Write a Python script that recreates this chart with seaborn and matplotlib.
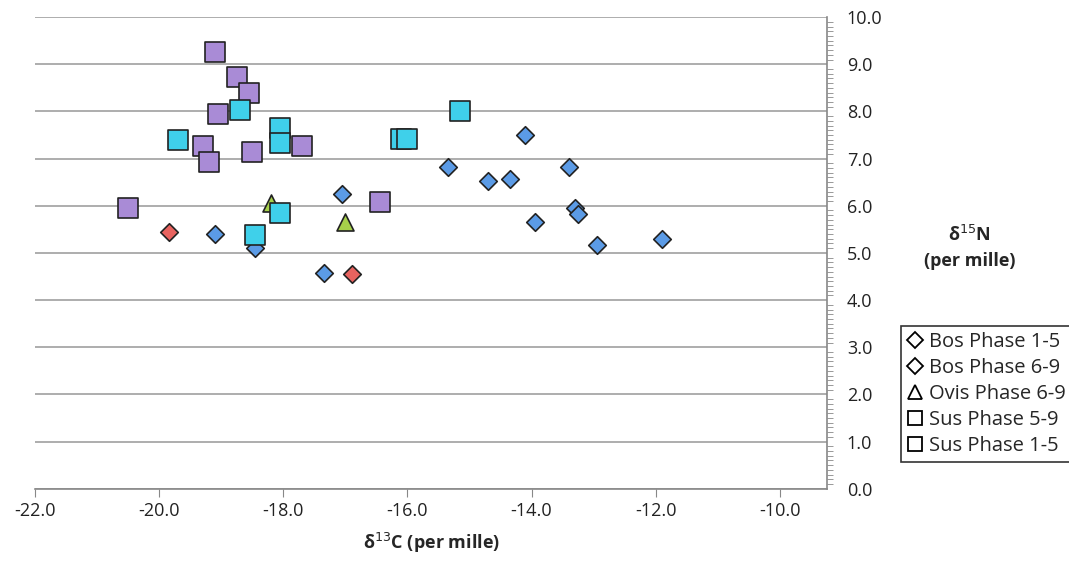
import matplotlib
matplotlib.use("Agg")
import matplotlib.pyplot as plt
import seaborn as sns
import pandas as pd
from matplotlib.lines import Line2D
from matplotlib.ticker import MultipleLocator

# data
bos15_x = [-19.85, -16.9]
bos15_y = [5.45, 4.55]
bos69_x = [-19.1, -18.45, -17.35, -17.05, -15.35, -14.7, -14.35, -14.1, -13.95, -13.4, -13.3, -13.25, -12.95, -11.9]
bos69_y = [5.4, 5.1, 4.58, 6.25, 6.82, 6.52, 6.57, 7.5, 5.65, 6.82, 5.95, 5.82, 5.17, 5.3]
ovis_x = [-18.2, -17.0]
ovis_y = [6.05, 5.65]
sus59_x = [-20.5, -19.1, -18.75, -18.55, -19.05, -19.3, -19.2, -18.5, -17.7, -16.45]
sus59_y = [5.95, 9.25, 8.72, 8.4, 7.95, 7.27, 6.92, 7.15, 7.27, 6.07]
sus15_x = [-19.7, -18.7, -18.05, -18.05, -18.05, -18.45, -16.1, -16.0, -15.15]
sus15_y = [7.4, 8.03, 7.65, 7.33, 5.85, 5.38, 7.42, 7.42, 8.0]

series = [
    ("Bos Phase 1-5", bos15_x, bos15_y, "D", "#e8635f", 80),
    ("Bos Phase 6-9", bos69_x, bos69_y, "D", "#5b9be6", 80),
    ("Ovis Phase 6-9", ovis_x, ovis_y, "^", "#a6d14a", 150),
    ("Sus Phase 5-9", sus59_x, sus59_y, "s", "#a98bd6", 200),
    ("Sus Phase 1-5", sus15_x, sus15_y, "s", "#3fd0ea", 200),
]

sns.set_style("white")
plt.rcParams["font.family"] = ["Open Sans", "DejaVu Sans"]

fig = plt.figure(figsize=(10.69, 5.69), dpi=100)
ax = fig.add_axes([0.033, 0.141, 0.741, 0.829])

for name, xs, ys, m, c, s in series:
    df = pd.DataFrame({"x": xs, "y": ys})
    sns.scatterplot(data=df, x="x", y="y", marker=m, color=c, s=s,
                    edgecolor="#222222", linewidth=1.2, ax=ax, zorder=3)

ax.set_xlim(-22, -9.23)
ax.set_ylim(0, 10)
ax.xaxis.set_major_locator(MultipleLocator(2))
ax.yaxis.set_major_locator(MultipleLocator(1))
ax.yaxis.set_minor_locator(MultipleLocator(0.1))
ax.xaxis.set_major_formatter(lambda v, p: f"{v:.1f}")
ax.yaxis.set_major_formatter(lambda v, p: f"{v:.1f}")
ax.yaxis.tick_right()
ax.grid(axis="y", color="#a0a0a0", linewidth=1.2)
for sp in ["top", "left"]:
    ax.spines[sp].set_visible(False)
for sp in ["bottom", "right"]:
    ax.spines[sp].set_color("#888888")
    ax.spines[sp].set_linewidth(1.2)
ax.tick_params(axis="y", which="major", direction="out", length=0, pad=14, labelsize=13, colors="#222222")
ax.tick_params(axis="y", which="minor", direction="out", length=4, color="#888888", right=True)
ax.tick_params(axis="x", direction="out", length=6, color="#888888", bottom=True, labelsize=13, colors="#222222")
ax.set_xlabel("δ$^{13}$C (per mille)", fontsize=13, fontweight="bold", labelpad=8)
ax.set_ylabel("")
fig.text(0.907, 0.565, "δ$^{15}$N\n(per mille)", ha="center", va="center",
         fontsize=13, fontweight="bold", linespacing=1.5)

handles = [Line2D([], [], marker=m, linestyle="", markerfacecolor="white",
                  markeredgecolor="black", markersize=10 if m != "D" else 8,
                  markeredgewidth=1.3) for _, _, _, m, _, _ in series]
labels = [s[0] for s in series]
leg = fig.legend(handles, labels, loc="upper left", bbox_to_anchor=(0.843, 0.427),
                 frameon=True, fancybox=False, fontsize=14.5, handlelength=0.8,
                 handletextpad=0.3, borderpad=0.3, labelspacing=0.3, borderaxespad=0)
leg.get_frame().set_edgecolor("black")
leg.get_frame().set_linewidth(1.2)

fig.savefig("out.png", dpi=100)
